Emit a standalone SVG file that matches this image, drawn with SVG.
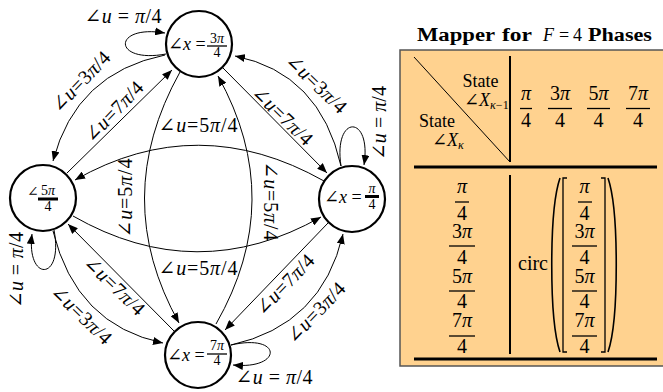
<svg xmlns="http://www.w3.org/2000/svg" width="663" height="392" viewBox="0 0 663 392">
<style>
.t{font-family:"Liberation Serif","DejaVu Serif",serif;font-size:18px;fill:#000}
.l{font-size:20px}
.f{font-size:20px}
.s{font-size:14px}
.i{font-style:italic}
.b{font-weight:bold}
.node{fill:#fff;stroke:#000;stroke-width:2.2}
.e{fill:none;stroke:#000;stroke-width:1;marker-end:url(#ah)}
.bar{stroke:#000;stroke-width:1.3}
.tb{stroke:#000;stroke-width:2;fill:none}
</style>
<defs>
<marker id="ah" markerUnits="userSpaceOnUse" markerWidth="10" markerHeight="8" refX="10" refY="4" orient="auto">
<path d="M0,0 L10,4 L0,8 z" fill="#000"/>
</marker>
</defs>
<rect width="663" height="392" fill="#fff"/>

<g id="connectors">
<path class="e" d="M166,54 C112,64 112,24 165,33"/>
<path class="e" d="M165,55 Q76,73 53,161"/>
<path class="e" d="M67,173 L172,70"/>
<path class="e" d="M223,68 L327,173"/>
<path class="e" d="M341,166 Q320,73 235,56"/>
<path class="e" d="M324,181 Q198,110 75,180"/>
<path class="e" d="M73,216 Q197,287 321,217"/>
<path class="e" d="M180,72 Q109.5,198.5 179,323"/>
<path class="e" d="M216,324 Q287,200 218,76"/>
<path class="e" d="M53,231 Q76,325 163,343"/>
<path class="e" d="M174,331 L68,224"/>
<path class="e" d="M328,223 L225,330"/>
<path class="e" d="M231,345 Q322,325 343,234"/>
<path class="e" d="M231,345 C283,333 283,370 233,365"/>
<path class="e" d="M54,230 C64,282 26,282 32,234"/>
<path class="e" d="M341,166 C333,114 372,114 364,165"/>
</g>

<g id="edge-labels" class="t l" text-anchor="middle">
<text x="123" y="23" textLength="77" lengthAdjust="spacing">∠<tspan class="i">u</tspan> = <tspan class="i">π</tspan>/4</text>
<text transform="translate(81,82) rotate(-46)" y="6" textLength="76" lengthAdjust="spacing">∠<tspan class="i">u</tspan>=3<tspan class="i">π</tspan>/4</text>
<text transform="translate(114,112) rotate(-46)" y="6" textLength="76" lengthAdjust="spacing">∠<tspan class="i">u</tspan>=7<tspan class="i">π</tspan>/4</text>
<text transform="translate(282,116) rotate(44)" y="6" textLength="76" lengthAdjust="spacing">∠<tspan class="i">u</tspan>=7<tspan class="i">π</tspan>/4</text>
<text transform="translate(316,84) rotate(44)" y="6" textLength="76" lengthAdjust="spacing">∠<tspan class="i">u</tspan>=3<tspan class="i">π</tspan>/4</text>
<text x="198" y="132" textLength="79" lengthAdjust="spacing">∠<tspan class="i">u</tspan>=5<tspan class="i">π</tspan>/4</text>
<text x="198" y="275" textLength="79" lengthAdjust="spacing">∠<tspan class="i">u</tspan>=5<tspan class="i">π</tspan>/4</text>
<text transform="translate(126,198) rotate(-90)" y="6" textLength="79" lengthAdjust="spacing">∠<tspan class="i">u</tspan>=5<tspan class="i">π</tspan>/4</text>
<text transform="translate(270,201) rotate(90)" y="6" textLength="79" lengthAdjust="spacing">∠<tspan class="i">u</tspan>=5<tspan class="i">π</tspan>/4</text>
<text transform="translate(17,270) rotate(-90)" y="6" textLength="76" lengthAdjust="spacing">∠<tspan class="i">u</tspan> = <tspan class="i">π</tspan>/4</text>
<text transform="translate(380,123) rotate(-90)" y="6" textLength="74" lengthAdjust="spacing">∠<tspan class="i">u</tspan> = <tspan class="i">π</tspan>/4</text>
<text transform="translate(81,315) rotate(44)" y="6" textLength="76" lengthAdjust="spacing">∠<tspan class="i">u</tspan>=3<tspan class="i">π</tspan>/4</text>
<text transform="translate(114,286) rotate(44)" y="6" textLength="76" lengthAdjust="spacing">∠<tspan class="i">u</tspan>=7<tspan class="i">π</tspan>/4</text>
<text transform="translate(285,285) rotate(-46)" y="6" textLength="76" lengthAdjust="spacing">∠<tspan class="i">u</tspan>=7<tspan class="i">π</tspan>/4</text>
<text transform="translate(316,313) rotate(-46)" y="6" textLength="76" lengthAdjust="spacing">∠<tspan class="i">u</tspan>=3<tspan class="i">π</tspan>/4</text>
<text x="274" y="384" textLength="77" lengthAdjust="spacing">∠<tspan class="i">u</tspan> = <tspan class="i">π</tspan>/4</text>
</g>

<g id="node-top">
<circle class="node" cx="199" cy="44" r="33"/>
<text class="t" x="168" y="50" font-size="19">∠<tspan class="i">x</tspan> =</text>
<text class="t s" x="217" y="43" text-anchor="middle">3<tspan class="i">π</tspan></text>
<line class="bar" x1="207" y1="46" x2="227" y2="46"/>
<text class="t s" x="217" y="57" text-anchor="middle">4</text>
</g>

<g id="node-left">
<circle class="node" cx="43" cy="198" r="33"/>
<text class="t s" x="27" y="196">∠</text>
<text class="t s" x="48" y="195" text-anchor="middle">5<tspan class="i">π</tspan></text>
<line x1="38" y1="199" x2="58" y2="199" stroke="#000" stroke-width="3"/>
<text class="t s" x="48" y="211" text-anchor="middle">4</text>
</g>

<g id="node-right">
<circle class="node" cx="352" cy="199" r="33"/>
<text class="t" x="324" y="203" font-size="19">∠<tspan class="i">x</tspan> =</text>
<text class="t s" x="372" y="193" text-anchor="middle" font-style="italic">π</text>
<line x1="365" y1="196.5" x2="379" y2="196.5" stroke="#000" stroke-width="3"/>
<text class="t s" x="372" y="209" text-anchor="middle">4</text>
</g>

<g id="node-bottom">
<circle class="node" cx="198" cy="355" r="33"/>
<text class="t" x="167" y="361" font-size="19">∠<tspan class="i">x</tspan> =</text>
<text class="t s" x="217" y="350" text-anchor="middle">7<tspan class="i">π</tspan></text>
<line class="bar" x1="207" y1="354" x2="227" y2="354"/>
<text class="t s" x="217" y="365" text-anchor="middle">4</text>
</g>

<g id="table">
<g class="t" font-size="20">
<text class="b" x="417" y="41" textLength="78" lengthAdjust="spacingAndGlyphs">Mapper</text>
<text class="b" x="502" y="41" textLength="30" lengthAdjust="spacingAndGlyphs">for</text>
<text class="i" x="543" y="41">F</text>
<text x="559" y="41">=</text>
<text x="573" y="41">4</text>
<text class="b" x="588" y="41" textLength="64" lengthAdjust="spacingAndGlyphs">Phases</text>
</g>
<rect x="400" y="50" width="270" height="316" fill="#FFD28F" stroke="#555" stroke-width="1.5"/>
<line x1="414" y1="57" x2="510" y2="162" stroke="#000" stroke-width="1"/>
<line class="tb" x1="510" y1="56" x2="510" y2="162"/>
<line x1="414" y1="167" x2="657" y2="167" stroke="#000" stroke-width="3"/>
<line x1="414" y1="359" x2="657" y2="359" stroke="#000" stroke-width="3"/>
<line class="tb" x1="510" y1="175" x2="510" y2="354"/>

<text class="t" x="480.5" y="87" font-size="17" text-anchor="middle">State</text>
<text class="t" x="464" y="106" font-size="17">∠<tspan class="i">X</tspan><tspan font-size="12" dy="3"><tspan class="i">κ</tspan>−1</tspan></text>
<text class="t" x="437" y="127" font-size="17" text-anchor="middle">State</text>
<text class="t" x="432" y="146" font-size="17">∠<tspan class="i">X</tspan><tspan font-size="12" dy="3" class="i">κ</tspan></text>

<g class="t f" text-anchor="middle">
<text x="526" y="100" class="i">π</text><line class="bar" x1="520" y1="108.5" x2="532" y2="108.5"/><text x="526" y="127">4</text>
<text x="560" y="100">3<tspan class="i">π</tspan></text><line class="bar" x1="548" y1="108.5" x2="572" y2="108.5"/><text x="560" y="127">4</text>
<text x="598.5" y="100">5<tspan class="i">π</tspan></text><line class="bar" x1="587" y1="108.5" x2="610" y2="108.5"/><text x="598.5" y="127">4</text>
<text x="638" y="100">7<tspan class="i">π</tspan></text><line class="bar" x1="626" y1="108.5" x2="650" y2="108.5"/><text x="638" y="127">4</text>

<text x="462" y="193" class="i">π</text><line class="bar" x1="455" y1="202" x2="469" y2="202"/><text x="462" y="220">4</text>
<text x="462" y="238">3<tspan class="i">π</tspan></text><line class="bar" x1="449" y1="246" x2="475" y2="246"/><text x="462" y="264">4</text>
<text x="462" y="283">5<tspan class="i">π</tspan></text><line class="bar" x1="449" y1="291" x2="475" y2="291"/><text x="462" y="308">4</text>
<text x="462" y="327">7<tspan class="i">π</tspan></text><line class="bar" x1="449" y1="336" x2="475" y2="336"/><text x="462" y="353">4</text>

<text x="584.5" y="193" class="i">π</text><line class="bar" x1="578" y1="202" x2="592" y2="202"/><text x="584.5" y="220">4</text>
<text x="584.5" y="238">3<tspan class="i">π</tspan></text><line class="bar" x1="572" y1="246" x2="597" y2="246"/><text x="584.5" y="264">4</text>
<text x="584.5" y="283">5<tspan class="i">π</tspan></text><line class="bar" x1="572" y1="291" x2="597" y2="291"/><text x="584.5" y="308">4</text>
<text x="584.5" y="327">7<tspan class="i">π</tspan></text><line class="bar" x1="572" y1="336" x2="597" y2="336"/><text x="584.5" y="353">4</text>
</g>
<text class="t f" x="518" y="270">circ</text>
<path d="M560,178 C549,210 549,320 560,352" fill="none" stroke="#000" stroke-width="1.6"/>
<path d="M608,178 C619,210 619,320 608,352" fill="none" stroke="#000" stroke-width="1.6"/>
<path d="M567,178 L563,178 L563,352 L567,352" fill="none" stroke="#000" stroke-width="1.3"/>
<path d="M601,178 L605,178 L605,352 L601,352" fill="none" stroke="#000" stroke-width="1.3"/>
</g>
</svg>
